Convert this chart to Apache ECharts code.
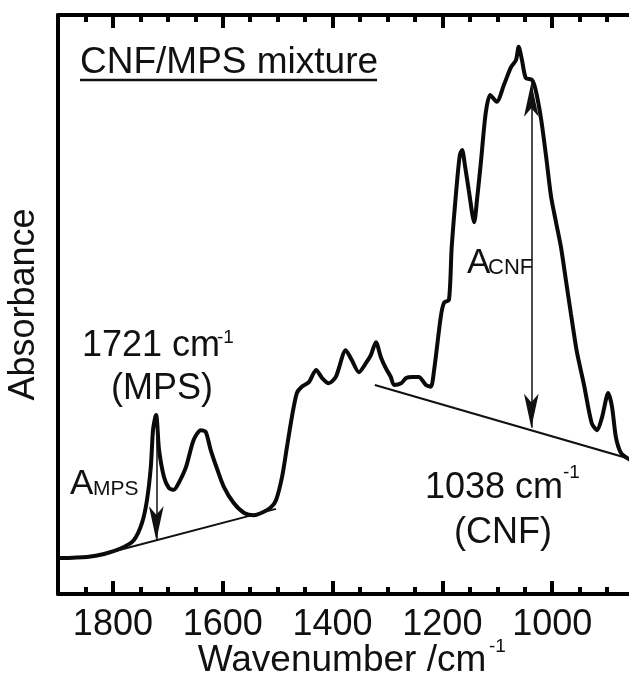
<!DOCTYPE html>
<html>
<head>
<meta charset="utf-8">
<script src="https://cdn.jsdelivr.net/npm/echarts@6/dist/echarts.min.js"></script>
<style>
  html, body { margin: 0; padding: 0; background: #fff; }
  #chart { width: 629px; height: 675px; }
</style>
</head>
<body>
<div id="chart"></div>
<script>
// spectrum, wavenumber in cm-1 (high -> low)
const wavenumbers = [
  1898, 1847, 1816, 1785, 1762, 1747, 1738, 1731, 1727, 1723, 1721, 1719, 1716,
  1707, 1698, 1689, 1680, 1667, 1653, 1640, 1631, 1622, 1611, 1598, 1580, 1561,
  1543, 1525, 1512, 1503, 1492, 1483, 1474, 1465, 1456, 1443, 1430, 1419, 1407,
  1394, 1376, 1365, 1352, 1339, 1330, 1321, 1312, 1303, 1294, 1288, 1275, 1266,
  1255, 1243, 1230, 1221, 1215, 1203, 1197, 1188, 1183, 1173, 1168, 1164, 1159,
  1152, 1142, 1137, 1130, 1121, 1113, 1101, 1088, 1075, 1066, 1061, 1055, 1048,
  1037, 1030, 1020, 1011, 1002, 993, 984, 975, 966, 955, 942, 928, 918, 909,
  898, 891, 884, 875, 864, 851
];
const absorbance = [
  0.062, 0.064, 0.069, 0.079, 0.093, 0.123, 0.162, 0.219, 0.283, 0.305, 0.309, 0.290, 0.249,
  0.202, 0.183, 0.180, 0.192, 0.219, 0.266, 0.283, 0.280, 0.249, 0.218, 0.185, 0.157, 0.140,
  0.136, 0.142, 0.150, 0.162, 0.202, 0.254, 0.306, 0.347, 0.358, 0.366, 0.387, 0.373, 0.364,
  0.375, 0.421, 0.404, 0.383, 0.399, 0.413, 0.435, 0.409, 0.390, 0.375, 0.361, 0.364, 0.373,
  0.375, 0.375, 0.361, 0.358, 0.387, 0.478, 0.503, 0.508, 0.599, 0.715, 0.759, 0.767, 0.741,
  0.698, 0.642, 0.680, 0.744, 0.831, 0.862, 0.850, 0.879, 0.910, 0.922, 0.945, 0.922, 0.891,
  0.888, 0.870, 0.819, 0.755, 0.686, 0.642, 0.599, 0.542, 0.485, 0.418, 0.361, 0.295, 0.283, 0.306,
  0.347, 0.323, 0.271, 0.244, 0.235, 0.228
];

// tick labels shown on the bottom axis
const majorTicks = [1800, 1600, 1400, 1200, 1000];

// baselines and peak heights
const mpsBaseline = [[1816, 0.069], [1503, 0.147]];
const cnfBaseline = [[1323, 0.361], [850, 0.231]];
const mpsArrow = [[1721, 0.309], [1721, 0.093]];
const cnfArrow = [[1038, 0.883], [1038, 0.287]];

const FONT = 'Liberation Sans, Arial, sans-serif';
const INK = '#111';

const spectrum = wavenumbers.map((w, i) => [w, absorbance[i]]);

// axis runs 800..1900 so ticks line up on multiples of 200 / 50;
// the 800-850 part sits past the right edge of the canvas (cropped, like the original)
function xAxisDef(pos, step, len, main) {
  return {
    type: 'value',
    position: pos,
    min: 800,
    max: 1900,
    interval: step,
    inverse: true,
    axisLine: { show: main, onZero: false, lineStyle: { color: '#000', width: 4 } },
    axisTick: { show: true, inside: true, length: len, lineStyle: { color: '#000', width: 4 } },
    axisLabel: {
      show: main && pos === 'bottom', margin: 13, fontSize: 36, fontFamily: FONT, color: INK,
      showMinLabel: false, showMaxLabel: false,
      formatter: (v) => (majorTicks.indexOf(+v) >= 0 ? String(v) : ''),
    },
    splitLine: { show: false },
  };
}

function txt(x, y, text, size, align) {
  return {
    type: 'text', x: x, y: y, silent: true,
    style: {
      text: text, fontSize: size, fontFamily: FONT, fill: INK,
      align: align || 'left', verticalAlign: 'middle',
      textAlign: align || 'left', textVerticalAlign: 'middle',
    },
  };
}

function arrowSeries(pts, both) {
  return {
    type: 'line', data: [], silent: true,
    markLine: {
      silent: true,
      animation: false,
      symbol: [both ? 'arrow' : 'none', 'arrow'],
      symbolSize: [11, 34],
      label: { show: false },
      lineStyle: { color: INK, width: 1.5, type: 'solid' },
      data: [[{ coord: pts[0] }, { coord: pts[1] }]],
    },
  };
}

const bottomAxis = xAxisDef('bottom', 200, 13, true);
bottomAxis.name = 'Wavenumber /cm';
bottomAxis.nameLocation = 'middle';
bottomAxis.nameGap = 48;
bottomAxis.nameMoveOverlap = false;
bottomAxis.nameTextStyle = { fontSize: 37, fontFamily: FONT, color: INK, padding: [0, 36, 0, 0] };

const option = {
  animation: false,
  backgroundColor: '#fff',
  grid: { left: 58, right: -33, top: 15, bottom: 81, outerBoundsMode: 'none', containLabel: false },
  xAxis: [
    bottomAxis,
    xAxisDef('bottom', 50, 7, false),
    xAxisDef('top', 200, 13, true),
    xAxisDef('top', 50, 7, false),
  ],
  yAxis: {
    type: 'value',
    min: 0,
    max: 1,
    axisLine: { show: true, lineStyle: { color: '#000', width: 4 } },
    axisTick: { show: false },
    axisLabel: { show: false },
    splitLine: { show: false },
    name: 'Absorbance',
    nameLocation: 'middle',
    nameGap: 16,
    nameTextStyle: { fontSize: 36, fontFamily: FONT, color: INK },
  },
  series: [
    {
      type: 'line',
      data: spectrum,
      showSymbol: false,
      smooth: 0.25,
      lineStyle: { color: '#0a0a0a', width: 4 },
    },
    {
      type: 'line', data: mpsBaseline, showSymbol: false,
      lineStyle: { color: INK, width: 2 },
    },
    {
      type: 'line', data: cnfBaseline, showSymbol: false,
      lineStyle: { color: INK, width: 2 },
    },
    arrowSeries(mpsArrow, false),
    arrowSeries(cnfArrow, true),
  ],
  graphic: {
    elements: [
      txt(80, 63, 'CNF/MPS mixture', 37),
      { type: 'line', silent: true, shape: { x1: 80, y1: 80, x2: 377, y2: 80 }, style: { stroke: INK, lineWidth: 2.5 } },
      txt(82, 346, '1721 cm', 36),
      txt(217, 338, '-1', 19),
      txt(162, 389, '(MPS)', 36, 'center'),
      txt(70, 484, 'A', 35),
      txt(93, 489, 'MPS', 21),
      txt(467, 263, 'A', 35),
      txt(488, 268, 'CNF', 22),
      txt(425, 488, '1038 cm', 36),
      txt(563, 473, '-1', 19),
      txt(503, 533, '(CNF)', 36, 'center'),
      txt(489, 647, '-1', 19),
    ],
  },
};

const myChart = echarts.init(document.getElementById('chart'), null, { renderer: 'canvas' });
myChart.setOption(option);
</script>
</body>
</html>
